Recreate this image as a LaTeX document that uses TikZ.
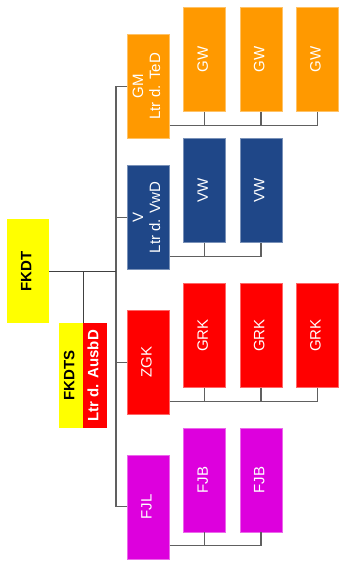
\documentclass[tikz,border=0pt]{standalone}
\usepackage{fontspec}
\setmainfont{Liberation Sans}
\usetikzlibrary{calc}
\definecolor{cyel}{HTML}{FFFF00}
\definecolor{corg}{HTML}{FF9900}
\definecolor{cblu}{HTML}{1F4788}
\definecolor{cred}{HTML}{FF0000}
\definecolor{cmag}{HTML}{DD00DD}
\definecolor{cline}{HTML}{606060}
\newcommand{\rt}[1]{\rotatebox{90}{\begin{tabular}{@{}c@{}}#1\end{tabular}}}
\begin{document}
\begin{tikzpicture}[x=1pt,y=-1pt,
  box/.style={inner sep=0pt, minimum width=42pt, minimum height=104pt, text=white,
    font=\fontsize{15}{17}\selectfont},
  half/.style={inner sep=0pt, minimum width=24pt, minimum height=105pt,
    font=\fontsize{15}{17}\selectfont\bfseries},
  conn/.style={draw=cline, line width=1.1pt},
  mainconn/.style={draw=black!75, line width=1.1pt}]
\useasboundingbox (0,0) rectangle (339,576);
% top
\node[box, fill=cyel, text=black, font=\fontsize{15}{17}\selectfont\bfseries] (FKDT) at (28,271.3) {\rt{FKDT}};
\node[half, fill=cyel, text=black] (FKDTSy) at (71,375.8) {\rt{FKDTS}};
\node[half, fill=cred, text=white] (FKDTSr) at (95,375.8) {\rt{Ltr d. AusbD}};
% column 1
\node[box, fill=corg, draw=corg!60!white, line width=0.5pt] (GM) at (148.3,86.3) {\rt{GM\\Ltr d. TeD}};
\node[box, fill=cblu, draw=cblu!60!white, line width=0.5pt] (V) at (148.3,217.5) {\rt{V\\Ltr d. VwD}};
\node[box, fill=cred, draw=cred!60!white, line width=0.5pt] (ZGK) at (148.3,362.3) {\rt{ZGK}};
\node[box, fill=cmag, draw=cmag!60!white, line width=0.5pt] (FJL) at (148.3,506.8) {\rt{FJL}};
% GW
\node[box, fill=corg, draw=corg!60!white, line width=0.5pt] (GW1) at (204.5,59.5) {\rt{GW}};
\node[box, fill=corg, draw=corg!60!white, line width=0.5pt] (GW2) at (261,59.5) {\rt{GW}};
\node[box, fill=corg, draw=corg!60!white, line width=0.5pt] (GW3) at (317.3,59.5) {\rt{GW}};
% VW
\node[box, fill=cblu, draw=cblu!60!white, line width=0.5pt] (VW1) at (204.5,190.5) {\rt{VW}};
\node[box, fill=cblu, draw=cblu!60!white, line width=0.5pt] (VW2) at (261,190.5) {\rt{VW}};
% GRK
\node[box, fill=cred, draw=cred!60!white, line width=0.5pt] (GRK1) at (204.5,335.5) {\rt{GRK}};
\node[box, fill=cred, draw=cred!60!white, line width=0.5pt] (GRK2) at (261,335.5) {\rt{GRK}};
\node[box, fill=cred, draw=cred!60!white, line width=0.5pt] (GRK3) at (317.3,335.5) {\rt{GRK}};
% FJB
\node[box, fill=cmag, draw=cmag!60!white, line width=0.5pt] (FJB1) at (204.5,480) {\rt{FJB}};
\node[box, fill=cmag, draw=cmag!60!white, line width=0.5pt] (FJB2) at (261,480) {\rt{FJB}};
% spine
\coordinate (sp) at (116,0);
\draw[conn] (GM.west) -- (GM.west -| sp) -- (FJL.west -| sp) -- (FJL.west);
\draw[conn] (V.west) -- (V.west -| sp);
\draw[conn] (ZGK.west) -- (ZGK.west -| sp);
\draw[mainconn] (FKDT.east) -- (FKDT.east -| sp);
\draw[mainconn] (FKDTSy.north east) -- (FKDTSy.north east |- FKDT.east);
% buses
\coordinate (gmbus) at ($(GM.south east)+(0,-13.3)$);
\draw[conn] (GM.east |- gmbus) -- (GW3.south |- gmbus) -- (GW3.south);
\draw[conn] (GW1.south) -- (GW1.south |- gmbus);
\draw[conn] (GW2.south) -- (GW2.south |- gmbus);
\coordinate (vbus) at ($(V.south east)+(0,-13.3)$);
\draw[conn] (V.east |- vbus) -- (VW2.south |- vbus) -- (VW2.south);
\draw[conn] (VW1.south) -- (VW1.south |- vbus);
\coordinate (zbus) at ($(ZGK.south east)+(0,-13.3)$);
\draw[conn] (ZGK.east |- zbus) -- (GRK3.south |- zbus) -- (GRK3.south);
\draw[conn] (GRK1.south) -- (GRK1.south |- zbus);
\draw[conn] (GRK2.south) -- (GRK2.south |- zbus);
\coordinate (fbus) at ($(FJL.south east)+(0,-13.3)$);
\draw[conn] (FJL.east |- fbus) -- (FJB2.south |- fbus) -- (FJB2.south);
\draw[conn] (FJB1.south) -- (FJB1.south |- fbus);
\end{tikzpicture}
\end{document}
